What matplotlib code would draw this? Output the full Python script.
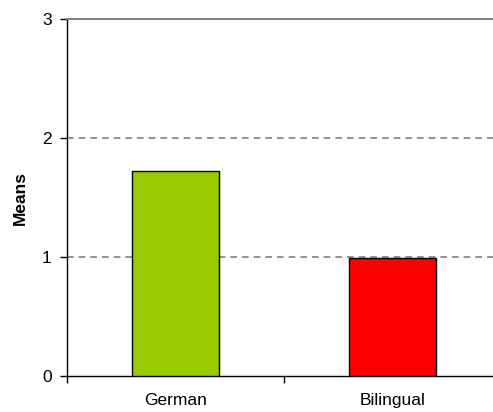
import matplotlib.pyplot as plt

plt.rcParams['font.family'] = ['Liberation Sans', 'DejaVu Sans']

groups = ['German', 'Bilingual']
means = [1.725, 0.99]
colors = ['#99CC00', '#FF0000']

fig = plt.figure(figsize=(4.93, 4.12), dpi=100)
# plot area runs a little past the right edge of the figure
ax = fig.add_axes([67 / 493, 36 / 412, 434 / 493, 357 / 412])

x = list(range(len(groups)))
ax.bar(x, means, width=0.4, color=colors, edgecolor='black', linewidth=1.0, zorder=3)

fs = 12.5
ax.set_xlim(-0.5, 1.5)
ax.set_ylim(0, 3)
ax.set_yticks([0, 1, 2, 3])
ax.set_yticklabels(['0', '1', '2', '3'], fontsize=fs)

# category labels centered, ticks on the category boundaries
ax.set_xticks([-0.5, 0.5, 1.5])
ax.set_xticklabels([])
ax.set_xticks(x, minor=True)
ax.set_xticklabels(groups, minor=True, fontsize=fs)
ax.tick_params(axis='x', which='minor', length=0, pad=12.5)
ax.tick_params(axis='x', which='major', length=5, direction='out', width=1)
ax.tick_params(axis='y', length=5, direction='out', width=1, pad=6)

for y in [1, 2]:
    ax.axhline(y, color='#808080', linestyle=(0, (4, 3)), linewidth=1.2, zorder=1)

ax.spines['top'].set_color('#808080')
ax.spines['top'].set_linewidth(1.5)
ax.spines['right'].set_visible(False)
ax.spines['left'].set_linewidth(1.0)
ax.spines['bottom'].set_linewidth(1.0)

ax.set_ylabel('Means', fontsize=fs, fontweight='bold', labelpad=10)

fig.savefig('out.png', dpi=100)
